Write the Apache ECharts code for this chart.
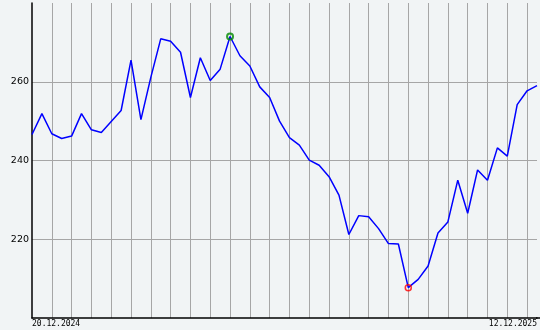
<!DOCTYPE html>
<html>
<head>
<meta charset="utf-8">
<style>html,body{margin:0;padding:0;background:#f1f4f5;}#c{width:540px;height:330px;}</style>
<script src="https://cdn.jsdelivr.net/npm/echarts@6/dist/echarts.min.js"></script>
</head>
<body>
<div id="c"></div>
<script>
// Weekly closing values, 20.12.2024 .. 12.12.2025
var values = [
  246.6, 251.9, 246.8, 245.6, 246.2, 251.9, 247.8, 247.1, 249.9, 252.7,
  265.5, 250.4, 261.1, 270.9, 270.3, 267.5, 256.0, 266.1, 260.3, 263.2,
  271.5, 266.6, 264.0, 258.7, 256.0, 250.0, 245.8, 243.9, 240.1, 238.8,
  235.9, 231.2, 221.2, 226.0, 225.7, 222.7, 218.9, 218.8, 207.7, 209.8,
  213.2, 221.6, 224.4, 235.0, 226.6, 237.6, 235.0, 243.2, 241.1, 254.2,
  257.7, 259.0
];
var startDate = '20.12.2024';
var endDate = '12.12.2025';
var yTicks = [220, 240, 260];

function pad(n){return (n<10?'0':'')+n;}
var categories = [];
(function(){
  var p = startDate.split('.');
  var d = new Date(Date.UTC(+p[2], +p[1]-1, +p[0]));
  for (var i = 0; i < values.length; i++) {
    var t = new Date(d.getTime() + i*7*86400000);
    categories.push(pad(t.getUTCDate())+'.'+pad(t.getUTCMonth()+1)+'.'+t.getUTCFullYear());
  }
  categories[categories.length-1] = endDate;
})();

var maxIdx = 0, minIdx = 0;
values.forEach(function(v, i){
  if (v > values[maxIdx]) maxIdx = i;
  if (v < values[minIdx]) minIdx = i;
});

var chart = echarts.init(document.getElementById('c'), null, {renderer:'canvas'});
chart.setOption({
  backgroundColor: '#f1f4f5',
  animation: false,
  grid: {left: 32, right: 3, top: 3, bottom: 12, containLabel: false},
  xAxis: {
    type: 'category',
    data: categories,
    boundaryGap: false,
    axisLine: {show: true, lineStyle: {color: '#000', width: 1.5}},
    axisTick: {show: false},
    axisLabel: {
      show: true,
      interval: function(i){ return i === 0 || i === categories.length-1; },
      margin: 2,
      fontFamily: 'DejaVu Sans Mono',
      fontSize: 8,
      color: '#000',
      alignMinLabel: 'left',
      alignMaxLabel: 'right'
    },
    splitLine: {
      show: true,
      interval: function(i){ return i > 0 && i % 2 === 0; },
      lineStyle: {color: '#a6a6a6', width: 1}
    }
  },
  yAxis: {
    type: 'value',
    min: 200, max: 280, interval: 20,
    axisLine: {show: true, lineStyle: {color: '#000', width: 1.5}},
    axisTick: {show: false},
    axisLabel: {
      showMinLabel: false, showMaxLabel: false,
      margin: 3,
      fontFamily: 'DejaVu Sans',
      fontSize: 9.5,
      color: '#000',
      formatter: function(v){ return yTicks.indexOf(v) >= 0 ? String(v) : ''; }
    },
    splitLine: {
      show: true, showMinLine: false, showMaxLine: false,
      lineStyle: {color: '#a6a6a6', width: 1}
    }
  },
  graphic: [{
    type: 'line', shape: {x1: 536, y1: 318, x2: 540, y2: 318},
    style: {stroke: '#000', lineWidth: 1.5}, z: 10
  }],
  series: [{
    type: 'line',
    data: values,
    symbol: 'none',
    lineStyle: {color: '#0000ff', width: 1.5},
    z: 5
  }, {
    type: 'scatter',
    z: 6,
    symbol: 'circle',
    symbolSize: 6,
    data: [
      {value: [maxIdx, values[maxIdx]], itemStyle: {color: 'rgba(0,0,0,0)', borderColor: '#008800', borderWidth: 2}},
      {value: [minIdx, values[minIdx]], itemStyle: {color: 'rgba(0,0,0,0)', borderColor: '#ff0000', borderWidth: 1.5}}
    ]
  }]
});
</script>
</body>
</html>
